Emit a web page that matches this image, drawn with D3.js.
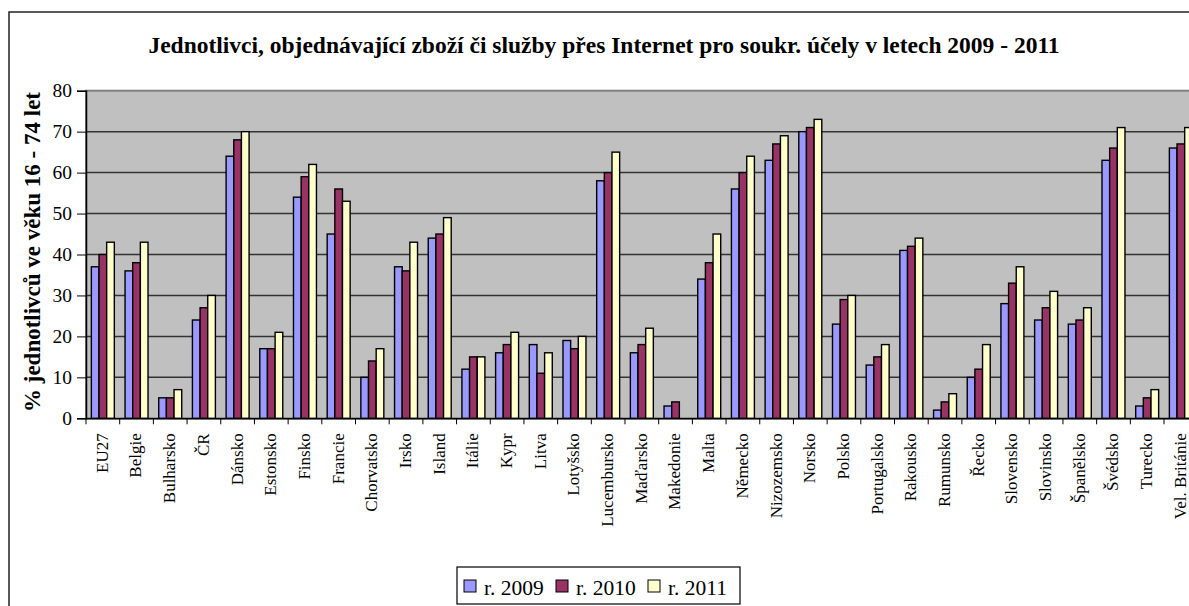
<!DOCTYPE html>
<html>
<head>
<meta charset="utf-8">
<script src="https://cdn.jsdelivr.net/npm/d3@7"></script>
<style>
  html, body { margin: 0; padding: 0; background: #fff; overflow: hidden; }
  text { font-family: 'Liberation Serif', 'Times New Roman', serif; fill: #000; }
</style>
</head>
<body>
<div id="chart"></div>
<script>
const categories = ['EU27', 'Belgie', 'Bulharsko', 'ČR', 'Dánsko', 'Estonsko', 'Finsko', 'Francie',
  'Chorvatsko', 'Irsko', 'Island', 'Itálie', 'Kypr', 'Litva', 'Lotyšsko', 'Lucembursko', 'Maďarsko',
  'Makedonie', 'Malta', 'Německo', 'Nizozemsko', 'Norsko', 'Polsko', 'Portugalsko', 'Rakousko',
  'Rumunsko', 'Řecko', 'Slovensko', 'Slovinsko', 'Španělsko', 'Švédsko', 'Turecko', 'Vel. Británie'];

const seriesNames = ['r. 2009', 'r. 2010', 'r. 2011'];

const values2009 = [37, 36, 5, 24, 64, 17, 54, 45, 10, 37, 44, 12, 16, 18, 19, 58, 16, 3, 34, 56, 63, 70, 23, 13, 41, 2, 10, 28, 24, 23, 63, 3, 66];
const values2010 = [40, 38, 5, 27, 68, 17, 59, 56, 14, 36, 45, 15, 18, 11, 17, 60, 18, 4, 38, 60, 67, 71, 29, 15, 42, 4, 12, 33, 27, 24, 66, 5, 67];
const values2011 = [43, 43, 7, 30, 70, 21, 62, 53, 17, 43, 49, 15, 21, 16, 20, 65, 22, null, 45, 64, 69, 73, 30, 18, 44, 6, 18, 37, 31, 27, 71, 7, 71];

const yTicks = [0, 10, 20, 30, 40, 50, 60, 70, 80];

const seriesColors = ['#9999FF', '#993366', '#FFFFCC'];

const W = 1189, H = 606;
const plot = { left: 86, top: 90.7, right: 1197.7, bottom: 418.3 };

const svg = d3.select('#chart')
  .append('svg')
  .attr('width', W)
  .attr('height', H);

// outer chart frame (runs past the right / bottom edge like the original)
svg.append('rect')
  .attr('x', 9).attr('y', 12)
  .attr('width', W + 20).attr('height', H + 20)
  .attr('fill', '#fff')
  .attr('stroke', '#222')
  .attr('stroke-width', 1.5);

svg.append('text')
  .attr('x', 604)
  .attr('y', 53)
  .attr('text-anchor', 'middle')
  .style('font-size', '23.5px')
  .style('font-weight', 'bold')
  .text('Jednotlivci, objednávající zboží či služby přes Internet pro soukr. účely v letech 2009 - 2011');

const x0 = d3.scaleBand()
  .domain(categories)
  .range([plot.left, plot.right])
  .padding(0);

const x1 = d3.scaleBand()
  .domain(d3.range(seriesNames.length))
  .range([0, x0.bandwidth()])
  .paddingInner(0)
  .paddingOuter(0.7);

const y = d3.scaleLinear()
  .domain([0, 80])
  .range([plot.bottom, plot.top]);

// plot background
svg.append('rect')
  .attr('x', plot.left).attr('y', plot.top)
  .attr('width', plot.right - plot.left)
  .attr('height', plot.bottom - plot.top)
  .attr('fill', '#C0C0C0')
  .attr('stroke', '#808080')
  .attr('stroke-width', 2);

// gridlines
svg.append('g')
  .selectAll('line')
  .data(yTicks.filter(function (d) { return d > 0 && d < 80; }))
  .enter().append('line')
  .attr('x1', plot.left).attr('x2', plot.right)
  .attr('y1', function (d) { return y(d); })
  .attr('y2', function (d) { return y(d); })
  .attr('stroke', '#333')
  .attr('stroke-width', 1.5);

// bars
const table = categories.map(function (c, i) {
  return { cat: c, vals: [values2009[i], values2010[i], values2011[i]] };
});

const groups = svg.append('g')
  .selectAll('g')
  .data(table)
  .enter().append('g')
  .attr('transform', function (d) { return 'translate(' + x0(d.cat) + ',0)'; });

groups.selectAll('rect')
  .data(function (d) {
    return d.vals.map(function (v, k) { return { k: k, v: v }; }).filter(function (e) { return e.v != null; });
  })
  .enter().append('rect')
  .attr('x', function (d) { return x1(d.k); })
  .attr('y', function (d) { return y(d.v); })
  .attr('width', x1.bandwidth())
  .attr('height', function (d) { return y(0) - y(d.v); })
  .attr('fill', function (d) { return seriesColors[d.k]; })
  .attr('stroke', '#000')
  .attr('stroke-width', 1.4);

// y axis
const yAxis = d3.axisLeft(y)
  .tickValues(yTicks)
  .tickSize(9)
  .tickPadding(5);

const gy = svg.append('g')
  .attr('transform', 'translate(' + plot.left + ',0)')
  .call(yAxis);
gy.select('.domain').attr('stroke', '#000').attr('stroke-width', 1.5);
gy.selectAll('.tick line').attr('stroke', '#000');
gy.selectAll('.tick text')
  .style('font-size', '19.5px')
  .style('font-family', "'Liberation Serif', serif");

// x axis
const xAxis = d3.axisBottom(x0)
  .tickSize(0)
  .tickPadding(0);

const gx = svg.append('g')
  .attr('transform', 'translate(0,' + plot.bottom + ')')
  .call(xAxis);
gx.select('.domain').attr('stroke', '#000').attr('stroke-width', 1.5);
gx.selectAll('.tick text')
  .style('font-size', '17px')
  .style('font-family', "'Liberation Serif', serif")
  .attr('text-anchor', 'end')
  .attr('dy', '0.35em')
  .attr('transform', 'translate(-1,15) rotate(-90)')
  .attr('x', 0).attr('y', 0);

// category separators
gx.selectAll('.sep')
  .data(categories)
  .enter().append('line')
  .attr('class', 'sep')
  .attr('x1', function (d) { return x0(d); })
  .attr('x2', function (d) { return x0(d); })
  .attr('y1', 0).attr('y2', 6)
  .attr('stroke', '#000');

// y axis title
svg.append('text')
  .attr('transform', 'translate(40,252) rotate(-90)')
  .attr('text-anchor', 'middle')
  .style('font-size', '23px')
  .style('font-weight', 'bold')
  .text('% jednotlivců ve věku 16 - 74 let');

// legend
const legend = svg.append('g');
legend.append('rect')
  .attr('x', 457).attr('y', 567)
  .attr('width', 283).attr('height', 37)
  .attr('fill', '#fff')
  .attr('stroke', '#000')
  .attr('stroke-width', 1.2);

const items = legend.selectAll('.item')
  .data(seriesNames)
  .enter().append('g')
  .attr('class', 'item')
  .attr('transform', function (d, i) { return 'translate(' + (464 + i * 92) + ',0)'; });

items.append('rect')
  .attr('x', 0).attr('y', 580)
  .attr('width', 12).attr('height', 12)
  .attr('fill', function (d, i) { return seriesColors[i]; })
  .attr('stroke', '#000');

items.append('text')
  .attr('x', 20).attr('y', 595)
  .style('font-size', '21.5px')
  .text(function (d) { return d; });
</script>
</body>
</html>
